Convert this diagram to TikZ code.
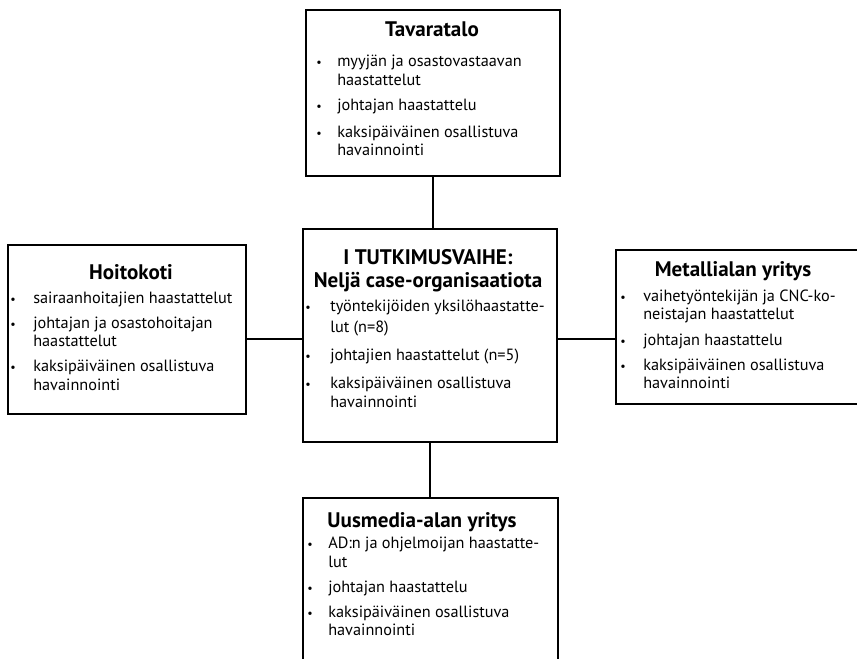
\documentclass[tikz,border=0pt]{standalone}
\usepackage{fontspec}
\setmainfont{PT Sans}
\begin{document}
\begin{tikzpicture}[x=0.75pt,y=-0.75pt,
  box/.style={draw, line width=1.3pt, inner sep=0pt, anchor=north west},
  link/.style={draw, line width=1pt},
  ttl/.style={anchor=base, inner sep=0pt, font=\bfseries\fontsize{15.8}{18}\selectfont},
  txt/.style={anchor=base west, inner sep=0pt, font=\fontsize{12.2}{14}\selectfont},
  bul/.style={anchor=base, inner sep=0pt, font=\fontsize{9}{10}\selectfont}]
\useasboundingbox (0,0) rectangle (857,659);
\clip (0,0) rectangle (857,659);

% frames (width x height in px, 1px = 0.75pt)
\node[box, minimum width=190.5pt, minimum height=124.5pt] (top) at (305,9) {};
\node[box, minimum width=190.5pt, minimum height=159.75pt] (mid) at (302,228) {};
\node[box, minimum width=178.5pt, minimum height=126.75pt] (left) at (7,244) {};
\node[box, minimum width=198.75pt, minimum height=115.5pt] (right) at (615,249) {};
\node[box, minimum width=191.25pt, minimum height=137.25pt] (bottom) at (302,497) {};

% connectors
\coordinate (hline) at (429,339);
\draw[link] (top.south) -- (top.south |- mid.north);
\draw[link] (mid.south) -- (mid.south |- bottom.north);
\draw[link] (left.east |- hline) -- (mid.west |- hline);
\draw[link] (mid.east |- hline) -- (right.west |- hline);

% Tavaratalo
\node[ttl] (top-t) at (432,37) {Tavaratalo};
\node[bul] (top-b1) at (319,67) {•};
\node[txt] (top-l1) at (337,67) {myyjän ja osastovastaavan};
\node[txt] (top-l2) at (337,86) {haastattelut};
\node[bul] (top-b2) at (319,111) {•};
\node[txt] (top-l3) at (337,111) {johtajan haastattelu};
\node[bul] (top-b3) at (319,138) {•};
\node[txt] (top-l4) at (337,138) {kaksipäiväinen osallistuva};
\node[txt] (top-l5) at (337,156) {havainnointi};

% Hoitokoti
\node[ttl] (left-t) at (131,280) {Hoitokoti};
\node[bul] (left-b1) at (13,304) {•};
\node[txt] (left-l1) at (33,304) {sairaanhoitajien haastattelut};
\node[bul] (left-b2) at (13,329) {•};
\node[txt] (left-l2) at (33,329) {johtajan ja osastohoitajan};
\node[txt] (left-l3) at (33,347) {haastattelut};
\node[bul] (left-b3) at (13,372) {•};
\node[txt] (left-l4) at (33,372) {kaksipäiväinen osallistuva};
\node[txt] (left-l5) at (33,390) {havainnointi};

% I TUTKIMUSVAIHE
\node[ttl] (mid-t1) at (428,265) {I TUTKIMUSVAIHE:};
\node[ttl] (mid-t2) at (428,288) {Neljä case-organisaatiota};
\node[bul] (mid-b1) at (308,312) {•};
\node[txt] (mid-l1) at (330,312) {työntekijöiden yksilöhaastatte-};
\node[txt] (mid-l2) at (330,333) {lut (n=8)};
\node[bul] (mid-b2) at (308,360) {•};
\node[txt] (mid-l3) at (330,360) {johtajien haastattelut (n=5)};
\node[bul] (mid-b3) at (308,388) {•};
\node[txt] (mid-l4) at (330,388) {kaksipäiväinen osallistuva};
\node[txt] (mid-l5) at (330,407) {havainnointi};

% Metallialan yritys
\node[ttl] (right-t) at (733,277) {Metallialan yritys};
\node[bul] (right-b1) at (623,302) {•};
\node[txt] (right-l1) at (643,302) {vaihetyöntekijän ja CNC-ko-};
\node[txt] (right-l2) at (643,320) {neistajan haastattelut};
\node[bul] (right-b2) at (623,345) {•};
\node[txt] (right-l3) at (643,345) {johtajan haastattelu};
\node[bul] (right-b3) at (623,370) {•};
\node[txt] (right-l4) at (643,370) {kaksipäiväinen osallistuva};
\node[txt] (right-l5) at (643,388) {havainnointi};

% Uusmedia-alan yritys
\node[ttl] (bottom-t) at (422,527) {Uusmedia-alan yritys};
\node[bul] (bottom-b1) at (310,548) {•};
\node[txt] (bottom-l1) at (328,548) {AD:n ja ohjelmoijan haastatte-};
\node[txt] (bottom-l2) at (328,567) {lut};
\node[bul] (bottom-b2) at (310,592) {•};
\node[txt] (bottom-l3) at (328,592) {johtajan haastattelu};
\node[bul] (bottom-b3) at (310,617) {•};
\node[txt] (bottom-l4) at (328,617) {kaksipäiväinen osallistuva};
\node[txt] (bottom-l5) at (328,635) {havainnointi};
\end{tikzpicture}
\end{document}
